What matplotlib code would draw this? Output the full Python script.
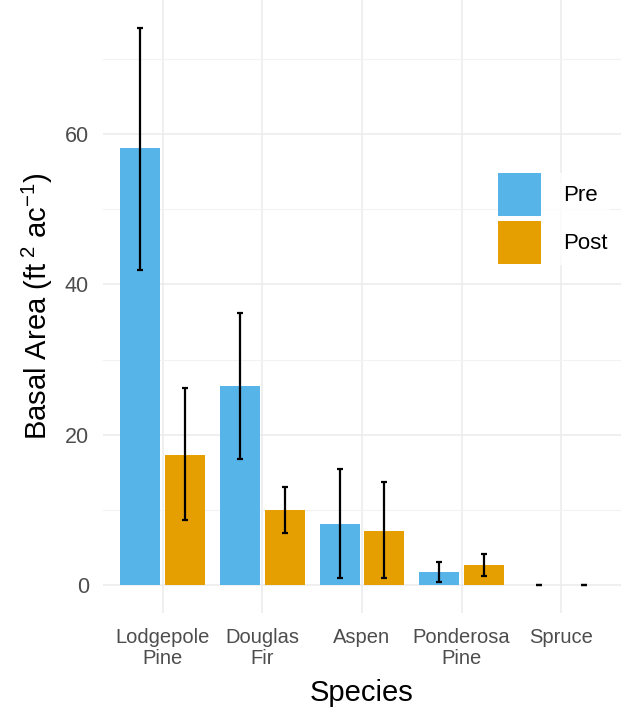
import numpy as np
import matplotlib
matplotlib.use('Agg')
from matplotlib import pyplot as plt
from matplotlib.ticker import MultipleLocator

plt.rcParams['font.family'] = ['Liberation Sans', 'DejaVu Sans']
plt.rcParams['mathtext.fontset'] = 'custom'
plt.rcParams['mathtext.rm'] = 'Liberation Sans'
plt.rcParams['mathtext.it'] = 'Liberation Sans'

# data
species = ['Lodgepole\nPine', 'Douglas\nFir', 'Aspen', 'Ponderosa\nPine', 'Spruce']
pre_mean = [58.1, 26.5, 8.1, 1.7, 0.0]
pre_lo = [41.9, 16.8, 0.9, 0.4, 0.0]
pre_hi = [74.1, 36.2, 15.4, 3.1, 0.0]
post_mean = [17.3, 10.0, 7.2, 2.7, 0.0]
post_lo = [8.6, 7.0, 0.9, 1.2, 0.0]
post_hi = [26.2, 13.0, 13.7, 4.1, 0.0]

colPre = '#56B4E9'
colPost = '#E69F00'

fig = plt.figure(figsize=(6.23, 7.09), dpi=100)
ax = fig.add_axes([103/623, 96/709, 518/623, 613/709])

x = np.arange(1, len(species) + 1)
off = 0.225
w = 0.4
ax.bar(x - off, pre_mean, width=w, color=colPre, label='Pre', zorder=2)
ax.bar(x + off, post_mean, width=w, color=colPost, label='Post', zorder=2)

for xs, m, lo, hi in [(x - off, pre_mean, pre_lo, pre_hi), (x + off, post_mean, post_lo, post_hi)]:
    m = np.array(m)
    yerr = [m - np.array(lo), np.array(hi) - m]
    ax.errorbar(xs, m, yerr=yerr, fmt='none', ecolor='black', elinewidth=1.6,
                capsize=2.2, capthick=1.6, zorder=3)

ax.set_xlim(0.4, 5.6)
ax.set_ylim(-3.7, 77.8)
ax.set_xticks(x)
ax.set_xticklabels(species, fontsize=14.5, color='#4D4D4D', linespacing=1.1)
ax.yaxis.set_major_locator(MultipleLocator(20))
ax.yaxis.set_minor_locator(MultipleLocator(10))
ax.tick_params(axis='y', labelsize=15.5, labelcolor='#4D4D4D', length=0, pad=10)
ax.tick_params(axis='y', which='minor', length=0)
ax.tick_params(axis='x', length=0, pad=11)

ax.grid(True, which='major', color='#EBEBEB', linewidth=1.1, zorder=0)
ax.grid(True, which='minor', axis='y', color='#F2F2F2', linewidth=0.8, zorder=0)
ax.set_axisbelow(True)
for s in ax.spines.values():
    s.set_visible(False)

ax.set_xlabel('Species', fontsize=21)
ax.xaxis.set_label_coords(0.5, -0.108)
ax.set_ylabel(r'Basal Area (ft$^{\ 2}$ ac$^{-1}$)', fontsize=21)
ax.yaxis.set_label_coords(-0.092, 0.5)

leg = fig.legend(loc='upper left', bbox_to_anchor=(498/623, 1 - 173/709), frameon=True,
                 fontsize=16, handlelength=1.94, handleheight=2.6, labelspacing=0.22,
                 handletextpad=1.0, borderpad=0, borderaxespad=0)
leg.get_frame().set_facecolor('white')
leg.get_frame().set_edgecolor('white')

plt.savefig('out.png', dpi=100)
plt.close()
